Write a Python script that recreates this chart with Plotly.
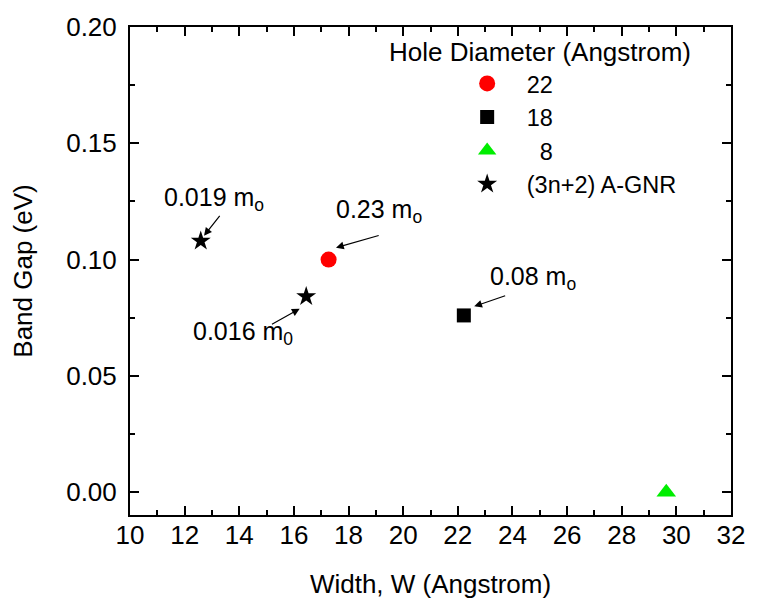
import plotly.graph_objects as go

# ---- data ----
hole22_x = [17.27]
hole22_y = [0.100]
hole18_x = [22.22]
hole18_y = [0.076]
hole8_x = [29.63]
hole8_y = [0.000]
agnr_x = [12.59, 16.45]
agnr_y = [0.108, 0.0841]

legend_names = ["22", "18", "\u00a0\u00a08", "(3n+2) A-GNR"]
x_ticks = [10, 12, 14, 16, 18, 20, 22, 24, 26, 28, 30, 32]
y_ticks = [0.00, 0.05, 0.10, 0.15, 0.20]

FONT = "Arial, Liberation Sans, sans-serif"
PAD = "\u00a0\u00a0\u00a0"

fig = go.Figure()
fig.add_trace(go.Scatter(x=hole22_x, y=hole22_y, mode="markers", name=PAD + legend_names[0],
                         marker=dict(symbol="circle", size=16, color="#ff0000")))
fig.add_trace(go.Scatter(x=hole18_x, y=hole18_y, mode="markers", name=PAD + legend_names[1],
                         marker=dict(symbol="square", size=14, color="#000000")))
fig.add_trace(go.Scatter(x=hole8_x, y=hole8_y, mode="markers", name=PAD + legend_names[2],
                         marker=dict(symbol="triangle-up", size=17, color="#00ee00")))
fig.add_trace(go.Scatter(x=agnr_x, y=agnr_y, mode="markers", name=PAD + legend_names[3],
                         marker=dict(symbol="star", size=15, color="#000000")))

axis_common = dict(
    showgrid=False, zeroline=False, showline=True, linecolor="black", linewidth=2,
    mirror="allticks", ticks="inside", ticklen=9, tickwidth=1.5, tickcolor="black",
    tickfont=dict(family=FONT, size=26, color="black"),
)

fig.update_xaxes(range=[10, 32], tickvals=x_ticks, ticktext=[str(v) for v in x_ticks],
                 ticklabelstandoff=-4,
                 minor=dict(ticks="inside", ticklen=5, tickwidth=1.5, dtick=1, tickcolor="black"),
                 title=dict(text="Width, W (Angstrom)", font=dict(family=FONT, size=26, color="black"),
                            standoff=26),
                 **axis_common)
fig.update_yaxes(range=[-0.0098, 0.20], tickvals=y_ticks, ticktext=[f"{v:.2f}" for v in y_ticks],
                 ticklabelstandoff=6,
                 minor=dict(ticks="inside", ticklen=5, tickwidth=1.5, dtick=0.025, tick0=0, tickcolor="black"),
                 title=dict(text="Band Gap (eV)", font=dict(family=FONT, size=26, color="black"),
                            standoff=26),
                 **axis_common)

# arrows (head at x,y; tail at ax,ay in data coords)
arrows = [
    (12.71, 0.1103, 13.32, 0.1193),
    (16.21, 0.0789, 15.16, 0.0720),
    (17.54, 0.1051, 19.14, 0.1105),
    (22.60, 0.0799, 23.77, 0.0846),
]
annotations = []
for hx, hy, tx, ty in arrows:
    annotations.append(dict(x=hx, y=hy, ax=tx, ay=ty, xref="x", yref="y", axref="x", ayref="y",
                            text=" ", font=dict(size=2), borderpad=0,
                            showarrow=True, arrowhead=2, arrowsize=1.3, arrowwidth=1.2,
                            arrowcolor="black"))

labels = [
    (11.18, 0.1262, "0.019 m<sub>o</sub>"),
    (12.23, 0.0684, "0.016 m<sub>0</sub>"),
    (17.45, 0.1207, "0.23 m<sub>o</sub>"),
    (23.12, 0.0921, "0.08 m<sub>o</sub>"),
]
for lx, ly, t in labels:
    annotations.append(dict(x=lx, y=ly, xref="x", yref="y", text=t, showarrow=False,
                            xanchor="left", yanchor="middle",
                            font=dict(family=FONT, size=25, color="black")))

annotations.append(dict(x=0.6826, y=0.9486, xref="paper", yref="paper",
                        text="Hole Diameter (Angstrom)", showarrow=False,
                        xanchor="center", yanchor="middle",
                        font=dict(family=FONT, size=26, color="black")))

fig.update_layout(
    width=757, height=607,
    margin=dict(l=130, r=19, t=22, b=92),
    plot_bgcolor="white", paper_bgcolor="white",
    font=dict(family=FONT, size=24, color="black"),
    annotations=annotations,
    showlegend=True,
    legend=dict(x=0.561, y=0.929, xanchor="left", yanchor="top",
                bgcolor="rgba(0,0,0,0)", borderwidth=0,
                font=dict(family=FONT, size=23.5, color="black"),
                tracegroupgap=0),
)

fig.write_html("out.html")
